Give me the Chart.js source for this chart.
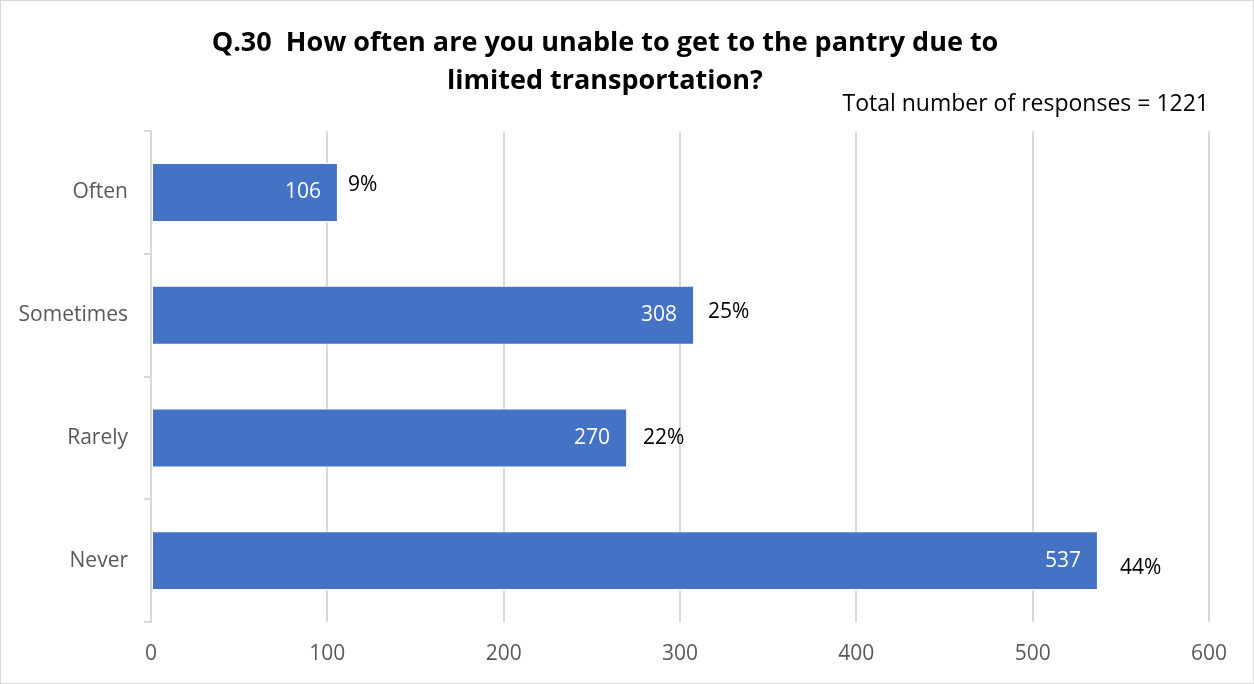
<!DOCTYPE html>
<html>
<head>
<meta charset="utf-8">
<script src="https://cdn.jsdelivr.net/npm/chart.js@4/dist/chart.umd.min.js"></script>
<style>
  html, body { margin: 0; padding: 0; background: #fff; }
  #wrap { position: relative; width: 1254px; height: 684px; box-sizing: border-box; border: 1px solid #d9d9d9; }
  canvas { display: block; }
</style>
</head>
<body>
<div id="wrap"><canvas id="c" width="1252" height="682"></canvas></div>
<script>
// ---- data ----
const categories = ['Often', 'Sometimes', 'Rarely', 'Never'];
const counts = [106, 308, 270, 537];
const pctLabels = ['9%', '25%', '22%', '44%'];
const xTicks = [0, 100, 200, 300, 400, 500, 600];
const titleLines = ['Q.30  How often are you unable to get to the pantry due to', 'limited transportation?'];
const subtitleText = 'Total number of responses = 1221';

// label nudges (style only): [dx from bar end, dy from bar centre]
const pctNudge = [[10, -7], [14, -3], [16, 0], [22, 7]];

const FONT = '"Open Sans", sans-serif';

const labelPlugin = {
  id: 'barLabels',
  afterDatasetsDraw(chart) {
    const ctx = chart.ctx;
    const meta = chart.getDatasetMeta(0);
    ctx.save();
    ctx.font = '21px ' + FONT;
    ctx.textBaseline = 'middle';
    meta.data.forEach((bar, i) => {
      ctx.fillStyle = '#ffffff';
      ctx.textAlign = 'right';
      ctx.fillText(String(counts[i]), bar.x - 17, bar.y);
      ctx.fillStyle = '#000000';
      ctx.textAlign = 'left';
      ctx.fillText(pctLabels[i], bar.x + pctNudge[i][0], bar.y + pctNudge[i][1]);
    });
    ctx.restore();
  }
};

new Chart(document.getElementById('c'), {
  type: 'bar',
  data: {
    labels: categories,
    datasets: [{
      data: counts,
      backgroundColor: '#4472C4',
      borderColor: '#ffffff',
      borderWidth: 1,
      borderSkipped: false,
      categoryPercentage: 0.5,
      barPercentage: 0.96
    }]
  },
  options: {
    indexAxis: 'y',
    responsive: false,
    animation: false,
    devicePixelRatio: 1,
    layout: { padding: { left: 0, right: 44, top: 0, bottom: 0 } },
    plugins: {
      legend: { display: false },
      tooltip: { enabled: false },
      title: {
        display: true,
        text: titleLines,
        color: '#000000',
        font: { family: FONT, size: 27, weight: 'bold', lineHeight: 1.41 },
        padding: { top: 23, bottom: 0 }
      },
      subtitle: {
        display: true,
        text: subtitleText,
        align: 'end',
        color: '#000000',
        font: { family: FONT, size: 23, lineHeight: 1.0 },
        padding: { top: -7, bottom: 15 }
      }
    },
    scales: {
      x: {
        min: 0,
        max: 600,
        afterBuildTicks(s) { s.ticks = xTicks.map(v => ({ value: v })); },
        afterFit(s) { s.height = 61; },
        grid: { color: '#d9d9d9', lineWidth: 2, drawTicks: false },
        border: { display: false },
        ticks: { color: '#595959', font: { family: FONT, size: 21 }, padding: 19 }
      },
      y: {
        afterFit(s) { s.width = 150; },
        grid: { offset: true, drawOnChartArea: false, drawTicks: true, tickLength: 7, color: '#d9d9d9', lineWidth: 2 },
        border: { display: true, color: '#d9d9d9', width: 2 },
        ticks: { color: '#595959', font: { family: FONT, size: 21 }, padding: 16 }
      }
    }
  },
  plugins: [labelPlugin]
});
</script>
</body>
</html>
